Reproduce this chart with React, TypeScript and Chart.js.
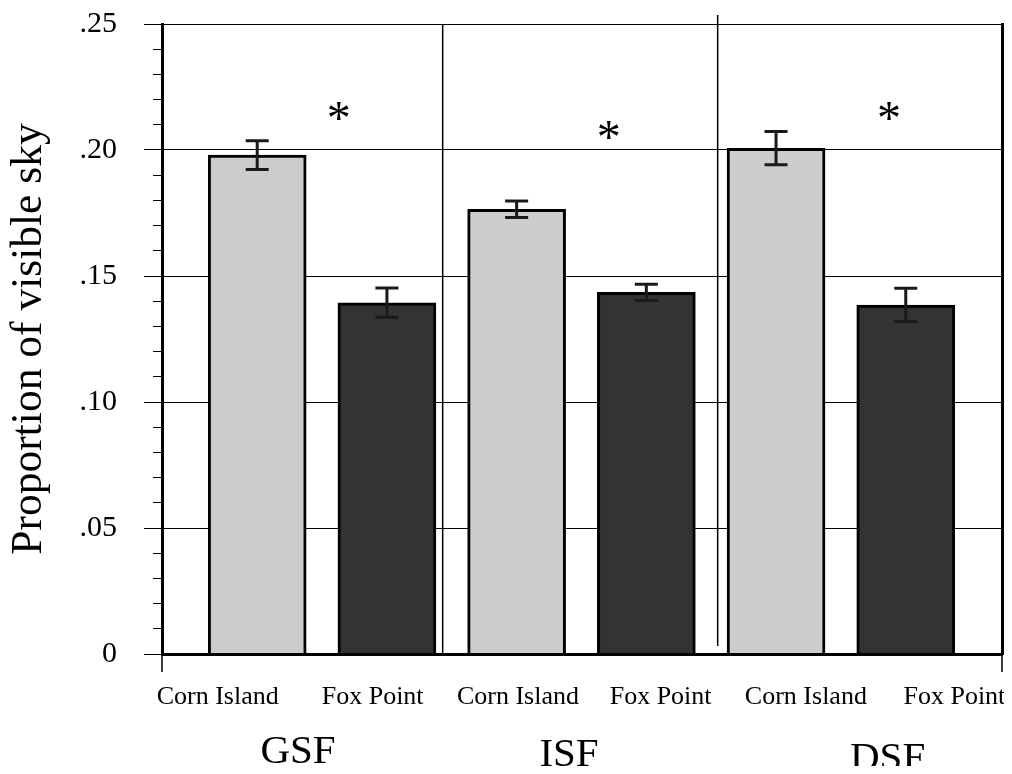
import React, { useEffect, useRef } from 'react';
import { Chart, registerables } from 'chart.js';

Chart.register(...registerables);

// ---------------- data ----------------
const groups = ['GSF', 'ISF', 'DSF'];
const sites = ['Corn Island', 'Fox Point'];
const cornIsland = [0.198, 0.1765, 0.2007];
const cornIslandErr = [0.0057, 0.0033, 0.0066];
const foxPoint = [0.1394, 0.1435, 0.1385];
const foxPointErr = [0.0058, 0.0032, 0.0066];
const yTickValues = [0, 0.05, 0.1, 0.15, 0.2, 0.25];
const yTickLabels = ['0', '.05', '.10', '.15', '.20', '.25'];
const significance = ['*', '*', '*'];
const starLevel = [0.2155, 0.208, 0.2155];

// ---------------- layout (x-scale units: bar k sits at k) ----------------
const X_MIN = -0.734;
const X_MAX = 5.742;
const siteLabelX = [-0.305, 0.89, 2.01, 3.11, 4.23, 5.375];
const groupLabelX = [0.315, 2.404, 4.86];
const groupLabelDrop = [109, 112, 116];
const starX = [0.628, 2.71, 4.87];
const separators = [
  { x: 1.43, top: 0.25, bottom: 0 },
  { x: 3.55, top: 0.2536, bottom: 0.0032 },
];

const SERIF = "'Liberation Serif', 'Times New Roman', serif";

const barPoints = (vals: number[], offset: number) =>
  vals.map((v, g) => ({ x: g * 2 + offset, y: v }));

const errors = [cornIslandErr, foxPointErr];

const annotations = {
  id: 'annotations',
  beforeDatasetsDraw(chart: any) {
    const { ctx, scales } = chart;
    const x = scales.x;
    const y = scales.y;
    ctx.save();
    ctx.strokeStyle = '#000';
    ctx.lineWidth = 1.5;
    separators.forEach((s) => {
      const px = x.getPixelForValue(s.x);
      ctx.beginPath();
      ctx.moveTo(px, y.getPixelForValue(s.top));
      ctx.lineTo(px, y.getPixelForValue(s.bottom));
      ctx.stroke();
    });
    ctx.restore();
  },
  afterDatasetsDraw(chart: any) {
    const { ctx, scales } = chart;
    const y = scales.y;
    ctx.save();
    ctx.strokeStyle = '#1a1a1a';
    ctx.lineWidth = 3;
    chart.data.datasets.forEach((ds: any, di: number) => {
      const meta = chart.getDatasetMeta(di);
      meta.data.forEach((bar: any, j: number) => {
        const v = ds.data[j].y;
        const e = errors[di][j];
        const top = y.getPixelForValue(v + e);
        const bot = y.getPixelForValue(v - e);
        const cx = bar.x;
        ctx.beginPath();
        ctx.moveTo(cx, top);
        ctx.lineTo(cx, bot);
        ctx.moveTo(cx - 11.5, top);
        ctx.lineTo(cx + 11.5, top);
        ctx.moveTo(cx - 11.5, bot);
        ctx.lineTo(cx + 11.5, bot);
        ctx.stroke();
      });
    });
    ctx.restore();
  },
  afterDraw(chart: any) {
    const { ctx, scales, chartArea } = chart;
    const x = scales.x;
    const y = scales.y;
    ctx.save();
    // end ticks below the axis
    ctx.strokeStyle = '#000';
    ctx.lineWidth = 1.5;
    [chartArea.left, chartArea.right].forEach((px: number) => {
      ctx.beginPath();
      ctx.moveTo(px, chartArea.bottom);
      ctx.lineTo(px, chartArea.bottom + 18);
      ctx.stroke();
    });
    // significance stars
    ctx.fillStyle = '#000';
    ctx.font = `48px ${SERIF}`;
    ctx.textAlign = 'center';
    ctx.textBaseline = 'alphabetic';
    significance.forEach((s, g) => {
      const m = ctx.measureText(s);
      const cy = y.getPixelForValue(starLevel[g]);
      const base = cy + (m.actualBoundingBoxAscent - m.actualBoundingBoxDescent) / 2;
      ctx.fillText(s, x.getPixelForValue(starX[g]), base);
    });
    // group labels
    ctx.font = `41px ${SERIF}`;
    groups.forEach((gname, g) => {
      ctx.fillText(gname, x.getPixelForValue(groupLabelX[g]), chartArea.bottom + groupLabelDrop[g]);
    });
    ctx.restore();
  },
};

export default function App() {
  const ref = useRef<HTMLCanvasElement>(null);
  useEffect(() => {
    if (!ref.current) return;
    const chart = new Chart(ref.current, {
      type: 'bar',
      data: {
        datasets: [
          {
            label: sites[0],
            data: barPoints(cornIsland, 0),
            backgroundColor: '#cccccc',
            borderColor: '#000',
            borderWidth: 3,
            barThickness: 98,
            grouped: false,
          } as any,
          {
            label: sites[1],
            data: barPoints(foxPoint, 1),
            backgroundColor: '#333333',
            borderColor: '#000',
            borderWidth: 3,
            barThickness: 98,
            grouped: false,
          } as any,
        ],
      },
      options: {
        animation: false,
        responsive: false,
        layout: { padding: { top: 16, right: 2, left: 0, bottom: 0 } },
        plugins: { legend: { display: false }, tooltip: { enabled: false } },
        scales: {
          x: {
            type: 'linear',
            display: false,
            offset: false,
            min: X_MIN,
            max: X_MAX,
          },
          x2: {
            type: 'linear',
            position: 'bottom',
            offset: false,
            min: X_MIN,
            max: X_MAX,
            grid: { display: false },
            border: { display: true, width: 3, color: '#000', z: 1 },
            afterBuildTicks: (s: any) => {
              s.ticks = siteLabelX.map((v) => ({ value: v }));
            },
            ticks: {
              autoSkip: false,
              maxRotation: 0,
              padding: 20,
              color: '#000',
              font: { family: SERIF, size: 26 },
              callback: (_v: any, i: number) => sites[i % 2],
            },
            afterFit: (s: any) => {
              s.height = 112;
              s.paddingLeft = 0;
              s.paddingRight = 0;
            },
          },
          y: {
            type: 'linear',
            position: 'left',
            weight: 1,
            min: 0,
            max: 0.25,
            afterBuildTicks: (s: any) => {
              s.ticks = yTickValues.map((v) => ({ value: v }));
            },
            grid: { color: '#000', lineWidth: 1, tickLength: 18, tickColor: '#000' },
            border: { display: true, width: 3, color: '#000', z: 1 },
            ticks: {
              padding: 27,
              color: '#000',
              font: { family: SERIF, size: 30, lineHeight: 1 },
              callback: (v: any) => {
                const i = yTickValues.findIndex((t) => Math.abs(t - v) < 1e-9);
                return i >= 0 ? yTickLabels[i] : '';
              },
            },
            title: {
              display: true,
              text: 'Proportion of visible sky',
              color: '#000',
              padding: 0,
              font: { family: SERIF, size: 43.5, lineHeight: 1 },
            },
            afterFit: (s: any) => {
              s.width = 154;
              s.paddingTop = 0;
              s.paddingBottom = 0;
            },
          },
          y2: {
            type: 'linear',
            position: 'left',
            weight: 0,
            min: 0,
            max: 0.25,
            grid: { drawOnChartArea: false, tickLength: 9, tickColor: '#000', lineWidth: 1 },
            border: { display: false },
            ticks: { display: false, stepSize: 0.01 },
            afterFit: (s: any) => {
              s.width = 0;
              s.paddingTop = 0;
              s.paddingBottom = 0;
            },
          },
          yR: {
            type: 'linear',
            position: 'right',
            min: 0,
            max: 0.25,
            grid: { display: false },
            border: { display: true, width: 3, color: '#000', z: 1 },
            ticks: { display: false },
            afterFit: (s: any) => {
              s.width = 0;
              s.paddingTop = 0;
              s.paddingBottom = 0;
            },
          },
        },
      } as any,
      plugins: [annotations],
    });
    return () => chart.destroy();
  }, []);
  return (
    <div style={{ width: 996, height: 758 }}>
      <canvas ref={ref} width={996} height={758} style={{ display: 'block' }} />
    </div>
  );
}
